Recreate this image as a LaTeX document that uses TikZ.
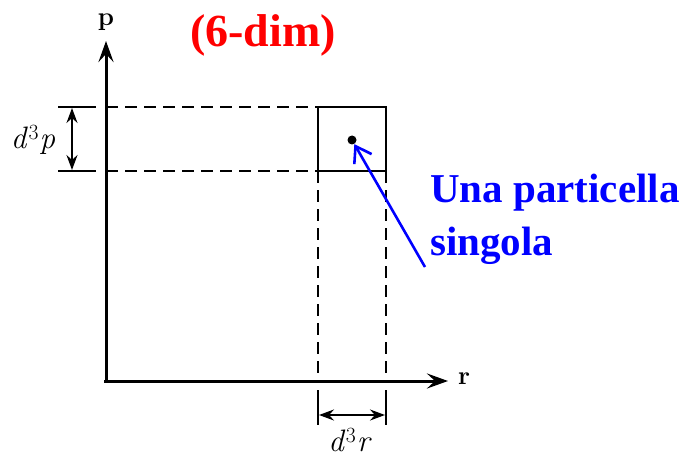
\documentclass[tikz,border=0pt]{standalone}
\usepackage{fontspec}
\newfontfamily\tnr{Liberation Serif}
\usetikzlibrary{arrows.meta}
\newcommand{\dcube}[1]{\textit{d}\kern0.5pt\textsuperscript{3}\kern0.5pt\textit{#1}}
\begin{document}
\begin{tikzpicture}[x=1pt,y=-1pt,
  axis/.style={line width=3pt,-{Stealth[length=21pt,width=15pt,inset=8pt]}},
  boxline/.style={line width=2.8pt},
  guide/.style={line width=2.1pt,dash pattern=on 12pt off 7pt},
  tick/.style={line width=2.1pt},
  dimarrow/.style={line width=2pt,{Stealth[length=15pt,width=11pt,inset=5pt]}-{Stealth[length=15pt,width=11pt,inset=5pt]}},
  mathlab/.style={font=\fontsize{31}{36}\selectfont,inner sep=0pt},
  axlab/.style={font=\bfseries\fontsize{26}{30}\selectfont,inner sep=0pt}]
\useasboundingbox (0,0) rectangle (689,460);
% axes
\coordinate (O) at (106,382);
\coordinate (ptop) at (106,41);
\coordinate (rend) at (448,381);
\draw[axis] (O) -- (ptop);
\draw[axis] (104,381) -- (rend);
\node[axlab] (plab) at (106,22) {p};
\node[axlab] (rlab) at (464,379) {r};
% box
\coordinate (b1) at (318,107);
\coordinate (b2) at (386,107);
\coordinate (b3) at (386,171);
\coordinate (b4) at (318,171);
\draw[boxline] (b1) -- (b2) -- (b3) -- (b4) -- cycle;
% guides
\coordinate (a1) at (106,107);
\coordinate (a2) at (106,171);
\coordinate (x1) at (318,381);
\coordinate (x2) at (386,381);
\draw[guide] (a1) -- (b1);
\draw[guide] (a2) -- (b4);
\draw[guide] (b4) -- (x1);
\draw[guide] (b3) -- (x2);
% ticks left
\coordinate (t1a) at (58,107);
\coordinate (t1b) at (96,107);
\coordinate (t2a) at (58,171);
\coordinate (t2b) at (96,171);
\draw[tick] (t1a) -- (t1b);
\draw[tick] (t2a) -- (t2b);
\coordinate (dpa) at (72,108);
\coordinate (dpb) at (72,170);
\draw[dimarrow] (dpa) -- (dpb);
\node[mathlab] (dp) at (33,140) {\dcube{p}};
% ticks bottom
\coordinate (u1a) at (318,390);
\coordinate (u1b) at (318,425);
\coordinate (u2a) at (386,390);
\coordinate (u2b) at (386,425);
\draw[tick] (u1a) -- (u1b);
\draw[tick] (u2a) -- (u2b);
\coordinate (dra) at (319,415);
\coordinate (drb) at (385,415);
\draw[dimarrow] (dra) -- (drb);
\node[mathlab] (dr) at (350,440) {\dcube{r}};
% particle
\node[circle,fill=black,inner sep=0pt,minimum size=9pt] (dot) at (352,140) {};
\coordinate (bstart) at (425,267);
\draw[blue,line width=2.6pt,-{Straight Barb[length=15pt,width=20pt]}] (bstart) -- (dot);
\node[anchor=base west,align=left,inner sep=0pt,text=blue,
  font=\tnr\bfseries\fontsize{41}{53}\selectfont] (lab) at (430,255) {Una particella\\singola};
\node[text=red,font=\tnr\bfseries\fontsize{46}{50}\selectfont,inner sep=0pt] (title) at (263,35) {(6-dim)};
\end{tikzpicture}
\end{document}
